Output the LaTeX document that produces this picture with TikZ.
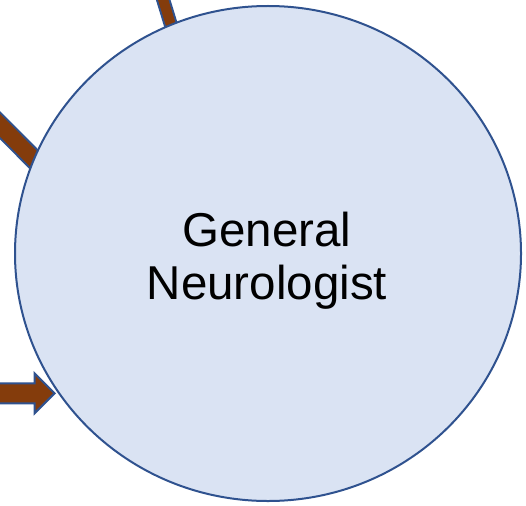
\documentclass[tikz,border=0pt]{standalone}
\usepackage{fontspec}
\setmainfont{Liberation Sans}
\usepackage{tikz}
\usetikzlibrary{shapes.geometric, shapes.arrows, arrows.meta, positioning, backgrounds}
\definecolor{circfill}{HTML}{DAE3F3}
\definecolor{edgeblue}{HTML}{2F528F}
\definecolor{shaftbrown}{HTML}{843C0C}

\begin{document}
\begin{tikzpicture}[x=1pt,y=-1pt,
    specialist/.style={ellipse,draw=edgeblue,line width=2pt,fill=circfill,minimum width=506pt,minimum height=495pt,inner sep=0},
    shaft/.style={draw=edgeblue,line width=2pt,double=shaftbrown,double distance=#1},
    blockarrow/.style={single arrow,draw=edgeblue,line width=2pt,fill=shaftbrown,minimum width=38pt,single arrow head extend=10pt,minimum height=120pt,inner xsep=0,inner ysep=9pt}]
  \useasboundingbox (0,0) rectangle (526,505);

  \node[specialist] (neuro) at (268,253.5) {};
  \node[font=\fontsize{47.5}{52.5}\selectfont,align=center] (label) at (267,260.5) {General\\Neurologist};

  % arrows coming in from outside the crop, drawn under the circle
  \coordinate (fromtop) at (151,-40);
  \coordinate (fromleft) at (-40,85);
  \begin{scope}[on background layer]
    \draw[shaft=10pt,shorten >=-20pt] (fromtop) -- (neuro.113.4);
    \draw[shaft=16pt,shorten >=-20pt] (fromleft) -- (neuro.158.7);
    \node[blockarrow,anchor=tip] (inarrow) at (56,393.3) {};
  \end{scope}
\end{tikzpicture}
\end{document}
